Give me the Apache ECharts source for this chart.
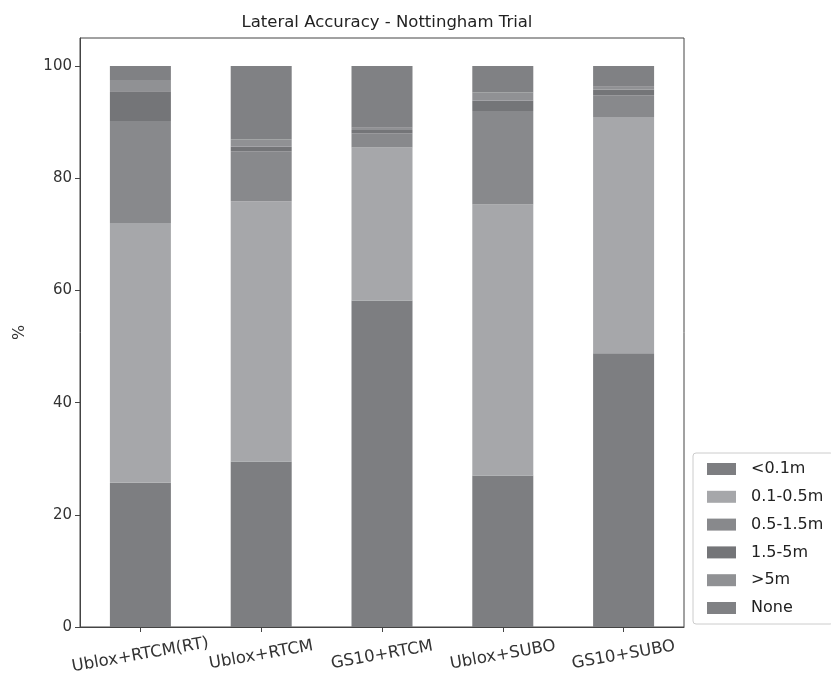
<!DOCTYPE html>
<html>
<head>
<meta charset="utf-8">
<script src="https://cdn.jsdelivr.net/npm/echarts@6/dist/echarts.min.js"></script>
<style>html,body{margin:0;padding:0;background:#fff;}#c{width:831px;height:683px;}</style>
</head>
<body>
<div id="c"></div>
<script>
const categories = ['Ublox+RTCM(RT)', 'Ublox+RTCM', 'GS10+RTCM', 'Ublox+SUBO', 'GS10+SUBO'];
const seriesNames = ['<0.1m', '0.1-0.5m', '0.5-1.5m', '1.5-5m', '>5m', 'None'];
const lt01 = [25.7, 29.5, 58.2, 27.0, 48.8];
const r01_05 = [46.3, 46.4, 27.3, 48.3, 42.1];
const r05_15 = [18.2, 8.9, 2.5, 16.7, 3.9];
const r15_5 = [5.3, 0.8, 0.6, 1.8, 1.0];
const gt5 = [2.0, 1.3, 0.4, 1.5, 0.5];
const none = [2.5, 13.1, 11.0, 4.7, 3.7];
const yTicks = [0, 20, 40, 60, 80, 100];

const values = [lt01, r01_05, r05_15, r15_5, gt5, none];
const colors = ['#7d7e81', '#a6a7aa', '#88898c', '#747578', '#909194', '#808184'];
const font = 'DejaVu Sans';

const chart = echarts.init(document.getElementById('c'), null, {renderer: 'canvas'});
chart.setOption({
  animation: false,
  backgroundColor: '#fff',
  title: {
    text: 'Lateral Accuracy - Nottingham Trial',
    left: 382, top: 9, textAlign: 'center',
    textStyle: {fontFamily: font, fontSize: 16.5, fontWeight: 'normal', color: '#222'}
  },
  grid: {left: 80, top: 38, width: 604, height: 589, show: true, borderColor: '#444', borderWidth: 1, backgroundColor: 'transparent'},
  legend: {
    orient: 'vertical', left: 693, top: 453,
    itemWidth: 29, itemHeight: 12, itemGap: 11.8,
    padding: [8, 10, 8, 14],
    borderColor: '#ccc', borderWidth: 1, borderRadius: 3,
    icon: 'rect',
    textStyle: {fontFamily: font, fontSize: 16, lineHeight: 16, color: '#222', padding: [0, 0, 0, 10]},
    data: seriesNames
  },
  xAxis: {
    type: 'category', data: categories,
    axisLine: {show: true, lineStyle: {color: '#444'}},
    axisTick: {show: true, alignWithLabel: true, interval: 0, length: 5, lineStyle: {color: '#444'}},
    axisLabel: {fontFamily: font, fontSize: 16.5, color: '#333', rotate: 10, align: 'center', verticalAlign: 'middle', margin: 28, interval: 0, hideOverlap: false},
    splitLine: {show: false}
  },
  yAxis: {
    type: 'value', min: 0, max: 105,
    name: '%', nameLocation: 'middle', nameGap: 52, nameRotate: 90,
    nameTextStyle: {fontFamily: font, fontSize: 16, color: '#333'},
    axisLine: {show: true, lineStyle: {color: '#444'}},
    axisTick: {show: true, length: 5, lineStyle: {color: '#444'}, customValues: yTicks},
    axisLabel: {fontFamily: font, fontSize: 15, color: '#333', margin: 8, customValues: yTicks},
    splitLine: {show: false}
  },
  series: seriesNames.map((n, i) => ({
    name: n, type: 'bar', stack: 'total', data: values[i],
    barWidth: 61, itemStyle: {color: colors[i]}
  }))
});
</script>
</body>
</html>
